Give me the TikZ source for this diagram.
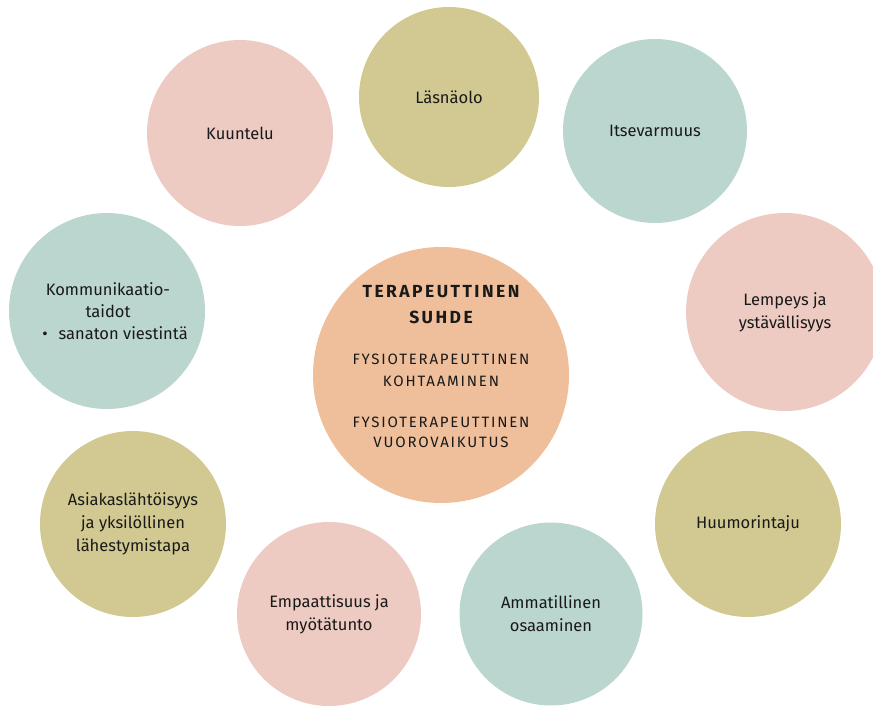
\documentclass[tikz,border=0pt]{standalone}
\usepackage{fontspec}
\setmainfont{Fira Sans}
\newfontfamily\spacedfont[LetterSpace=14]{Fira Sans}
\newfontfamily\spacedlight[LetterSpace=12]{Fira Sans}
\definecolor{cpink}{RGB}{237,203,194}
\definecolor{ckhaki}{RGB}{209,201,145}
\definecolor{cteal}{RGB}{187,214,207}
\definecolor{cpeach}{RGB}{239,191,155}
\begin{document}
\begin{tikzpicture}[x=1pt,y=-1pt,
  bubble/.style={circle,inner sep=0pt,draw=none,align=center,text=black!90,
    font=\fontsize{16.5}{23}\selectfont},
  labeltext/.style={align=center,text=black!90,font=\fontsize{16.5}{22}\selectfont},
  titletext/.style={text=black!90,inner sep=0pt,font=\spacedfont\bfseries\fontsize{17.5}{25}\selectfont},
  subtext/.style={text=black!90,inner sep=0pt,font=\spacedlight\fontsize{15}{22}\selectfont}]
\useasboundingbox (0,0) rectangle (873,706);
\begin{scope}
\clip (0,0) rectangle (873,706);
\node[bubble,fill=ckhaki,minimum size=180pt] (lasna) at (449,97) {Läsnäolo};
\node[bubble,fill=cpink,minimum size=186pt] (kuunt) at (240,133) {Kuuntelu};
\node[bubble,fill=cteal,minimum size=184pt] (itse) at (655,131) {Itsevarmuus};
\node[bubble,fill=cteal,minimum size=196pt] (komm) at (107,311) {};
\node[labeltext] (kommt) at (108,311) {Kommunikaatio-\\taidot\\\textbullet\hspace{11pt}sanaton viestintä\kern-14pt};
\node[bubble,fill=cpink,minimum size=198pt] (lemp) at (785,312) {Lempeys ja\\ystävällisyys};
\node[bubble,fill=ckhaki,minimum size=186pt] (asia) at (133,524) {Asiakaslähtöisyys\\ja yksilöllinen\\lähestymistapa};
\node[bubble,fill=ckhaki,minimum size=186pt] (huum) at (748,524) {Huumorintaju};
\node[bubble,fill=cteal,minimum size=183pt] (amma) at (551,614) {Ammatillinen\\osaaminen};
\node[bubble,fill=cpink,minimum size=184pt] (empa) at (329,614) {Empaattisuus ja\\myötätunto};
\node[bubble,fill=cpeach,minimum size=256pt] (center) at (441,375) {};
\node[titletext] (t1) at (441,292) {TERAPEUTTINEN};
\node[titletext] (t2) at (441,317) {SUHDE};
\node[subtext] (s1) at (441,359) {FYSIOTERAPEUTTINEN};
\node[subtext] (s2) at (441,381) {KOHTAAMINEN};
\node[subtext] (s3) at (441,422) {FYSIOTERAPEUTTINEN};
\node[subtext] (s4) at (441,442) {VUOROVAIKUTUS};
\end{scope}
\end{tikzpicture}
\end{document}
